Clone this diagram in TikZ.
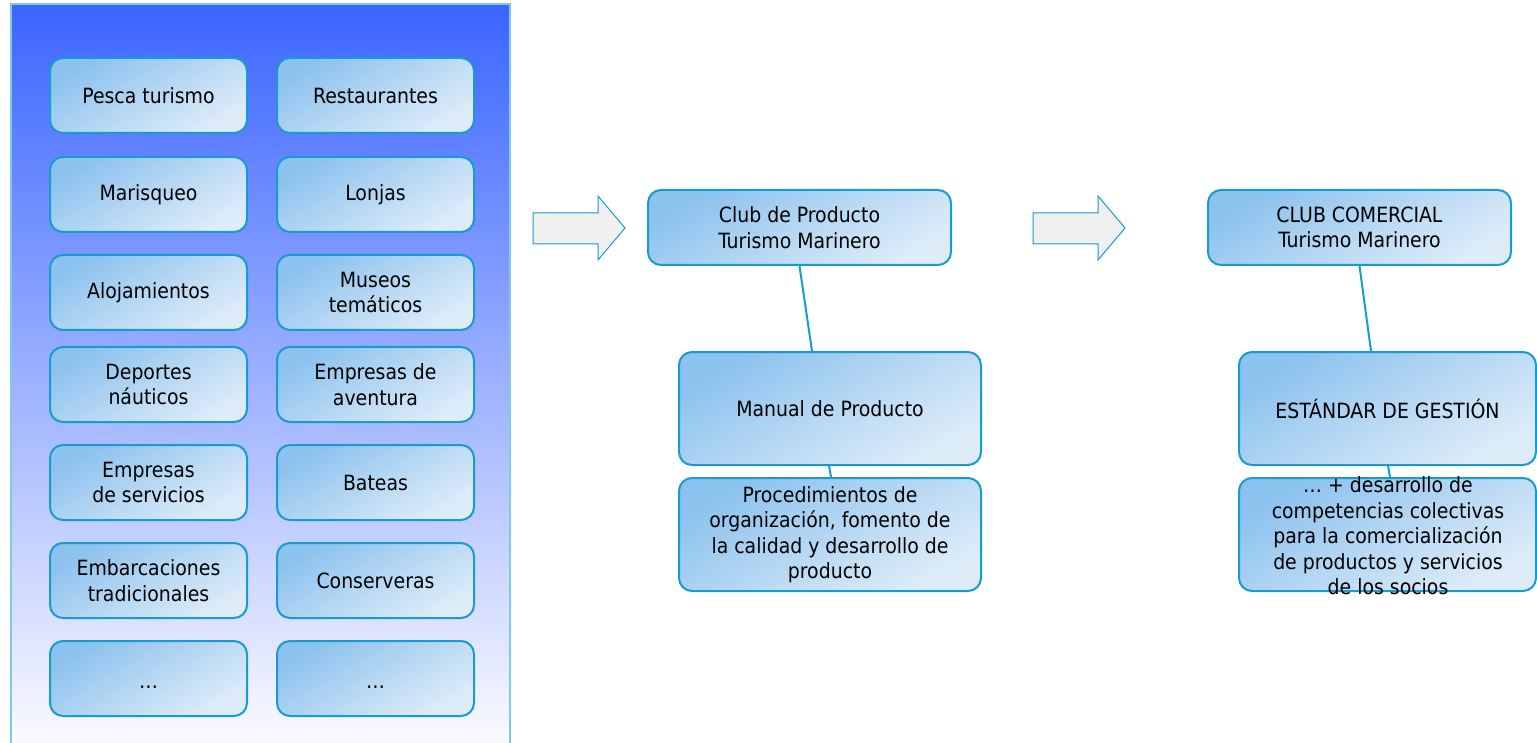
\documentclass[tikz,border=0pt]{standalone}
\usepackage{fontspec}
\setmainfont{DejaVu Sans Condensed}
\usetikzlibrary{calc}
\definecolor{bordc}{RGB}{24,155,208}
\definecolor{boxdark}{RGB}{140,194,238}
\definecolor{boxlight}{RGB}{222,236,248}
\definecolor{paneltop}{RGB}{59,101,255}
\definecolor{panelmid}{RGB}{165,172,255}
\definecolor{panelbot}{RGB}{250,250,255}
\definecolor{panelline}{RGB}{126,203,230}
\definecolor{arrowfill}{RGB}{240,240,240}
\begin{document}
\begin{tikzpicture}[x=1pt,y=-1pt]
\tikzset{
  boxbase/.style={draw=bordc, line width=2pt, rounded corners=13pt,
    top color=boxdark, bottom color=boxlight, shading angle=30,
    inner sep=0pt, align=center, text=black,
    font=\fontsize{21}{25.5}\selectfont},
  smallbox/.style={boxbase, minimum width=197pt, minimum height=75pt},
  clubbox/.style={boxbase, minimum width=303pt, minimum height=75pt},
  bigbox/.style={boxbase, minimum width=302pt, minimum height=113pt},
  lbl/.style={inner sep=0pt, align=center, text=black,
    font=\fontsize{21}{25.5}\selectfont},
  conn/.style={draw=bordc, line width=2pt},
  bigarrow/.style={draw=bordc, line width=1pt, fill=arrowfill}
}
\useasboundingbox (0,0) rectangle (1537,743);
\fill[white] (0,0) rectangle (1537,743);
% left panel
\shade[top color=paneltop, middle color=panelmid, bottom color=panelbot] (11,4) rectangle (510,743);
\draw[panelline, line width=1.5pt] (11,743) -- (11,4) -- (510,4) -- (510,743);
% left boxes
\node[smallbox] (b11) at (148.5,95.5) {Pesca turismo};
\node[smallbox] (b12) at (375.5,95.5) {Restaurantes};
\node[smallbox] (b21) at (148.5,194.5) {Marisqueo};
\node[smallbox] (b22) at (375.5,194.5) {Lonjas};
\node[smallbox] (b31) at (148.5,292.5) {Alojamientos};
\node[smallbox] (b32) at (375.5,292.5) {Museos\\temáticos};
\node[smallbox] (b41) at (148.5,384.5) {Deportes\\náuticos};
\node[smallbox] (b42) at (375.5,384.5) {Empresas de\\aventura};
\node[smallbox] (b51) at (148.5,482.5) {Empresas\\de servicios};
\node[smallbox] (b52) at (375.5,482.5) {Bateas};
\node[smallbox] (b61) at (148.5,580.5) {Embarcaciones\\tradicionales};
\node[smallbox] (b62) at (375.5,580.5) {Conserveras};
\node[smallbox] (b71) at (148.5,678.5) {\vphantom{Ag}\raisebox{-5pt}{…}};
\node[smallbox] (b72) at (375.5,678.5) {\vphantom{Ag}\raisebox{-5pt}{…}};
% arrows
\draw[bigarrow] (533,213) -- (598,213) -- (598,196) -- (625,228) -- (598,260) -- (598,244) -- (533,244) -- cycle;
\draw[bigarrow] (1033,213) -- (1098,213) -- (1098,196) -- (1125,228) -- (1098,260) -- (1098,244) -- (1033,244) -- cycle;
% middle column
\node[clubbox] (club) at (799.5,227.5) {Club de Producto\\Turismo Marinero};
\node[bigbox] (manual) at (830,408.5) {Manual de Producto};
\node[bigbox] (proc) at (830,534.5) {Procedimientos de\\organización, fomento de\\la calidad y desarrollo de\\producto};
\draw[conn] (club.south) -- ([xshift=-18pt]manual.north);
\draw[conn] ([xshift=-1pt]manual.south) -- ([xshift=1pt]proc.north);
% right column
\node[clubbox] (comercial) at (1359.5,227.5) {CLUB COMERCIAL\\Turismo Marinero};
\node[bigbox, minimum width=297pt] (estandar) at (1387.5,408.5) {ESTÁNDAR DE GESTIÓN};
\node[bigbox, minimum width=297pt] (desarrollo) at (1387.5,534.5) {};
\node[lbl] (desarrollotxt) at (1388,536) {… + desarrollo de\\competencias colectivas\\para la comercialización\\de productos y servicios\\de los socios};
\draw[conn] (comercial.south) -- ([xshift=-16.5pt]estandar.north);
\draw[conn] ([xshift=0.5pt]estandar.south) -- ([xshift=2.5pt]desarrollo.north);
\end{tikzpicture}
\end{document}
